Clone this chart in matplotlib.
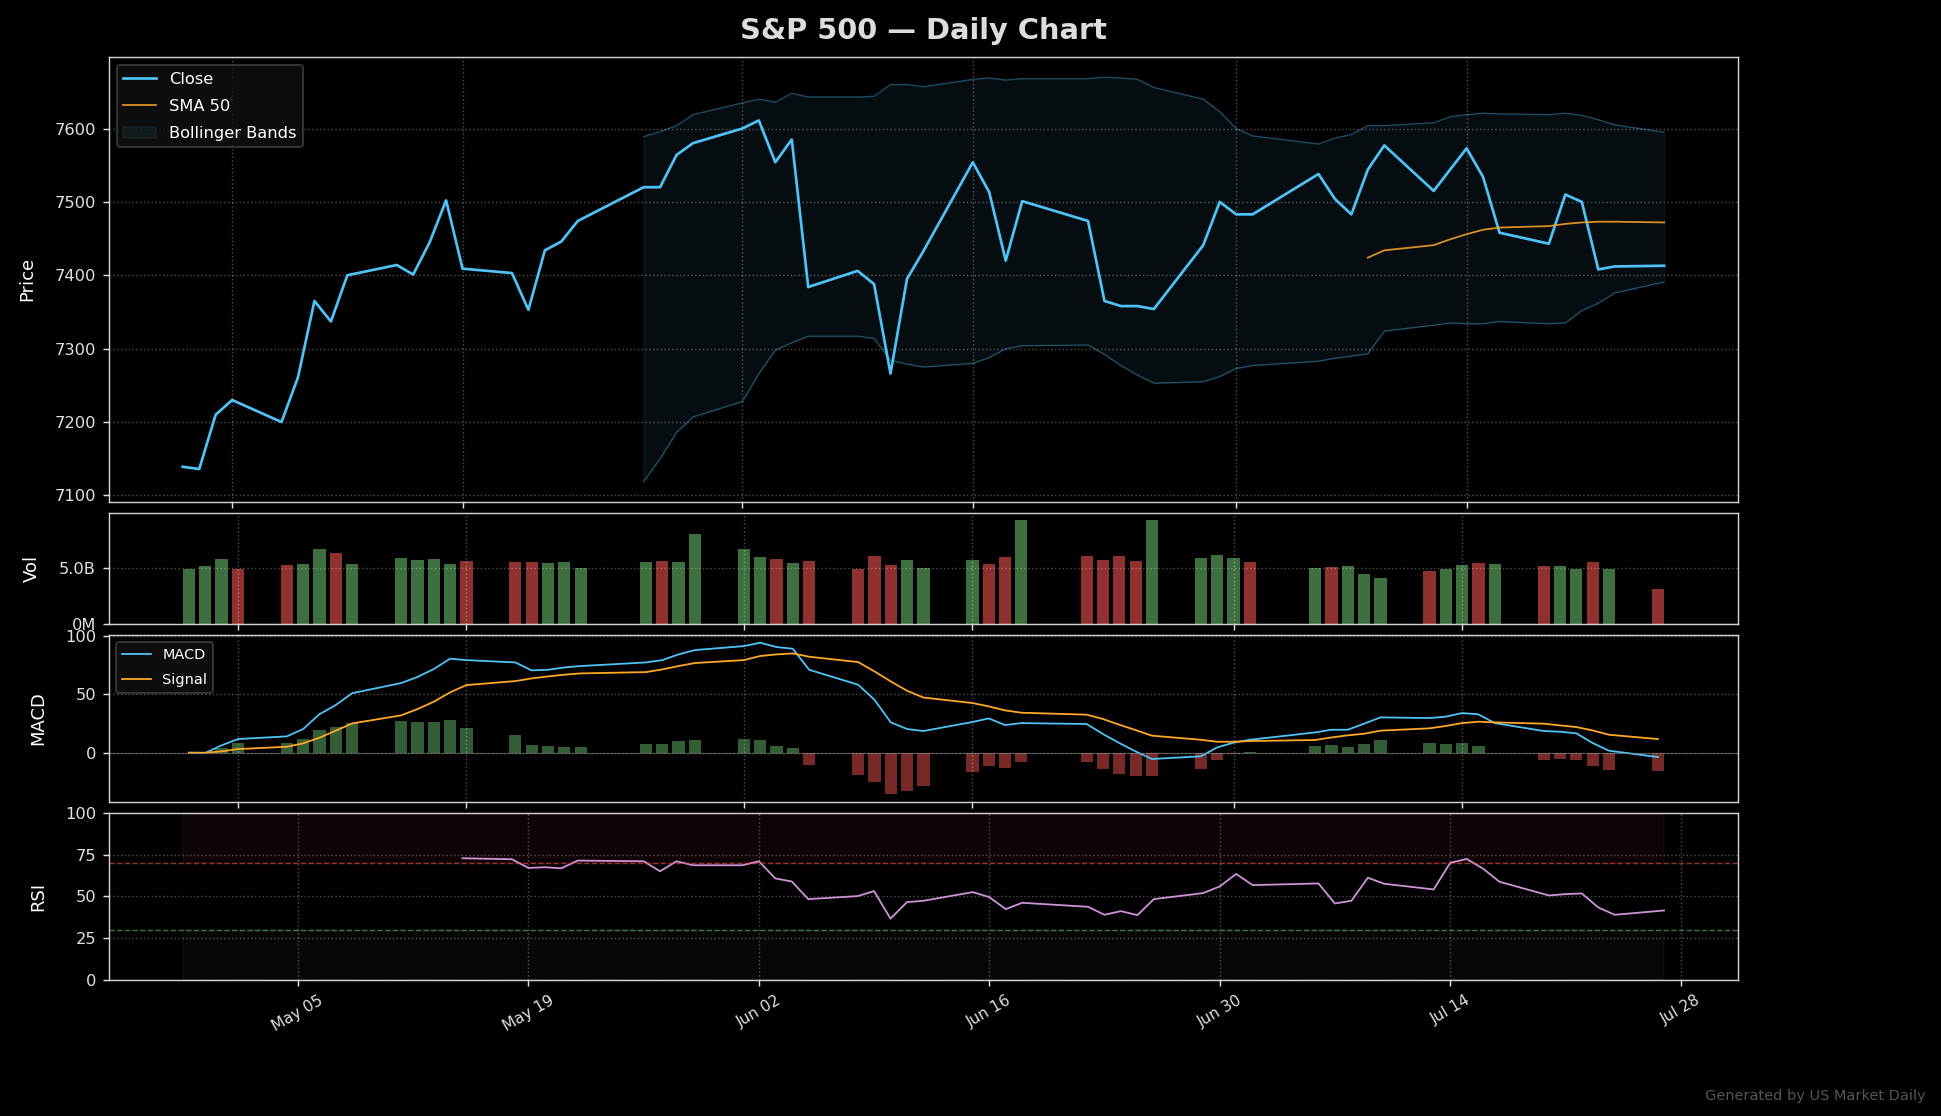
import numpy as np
import pandas as pd
import matplotlib
matplotlib.use('Agg')
import matplotlib.pyplot as plt
import matplotlib.dates as mdates
from matplotlib.ticker import FuncFormatter, MaxNLocator

# trading days (NYSE closed on Memorial Day, Juneteenth, Jul 3 observed)
holidays = ['2026-05-25', '2026-06-19', '2026-07-03']
dates = pd.bdate_range('2026-04-28', '2026-07-27', freq='C', holidays=holidays)

close = [7139, 7136, 7210, 7230,
         7200, 7261, 7365, 7337, 7400,
         7414, 7401, 7445, 7502, 7409,
         7403, 7353, 7434, 7446, 7474,
         7520, 7520, 7564, 7580,
         7600, 7611, 7554, 7585, 7384,
         7406, 7388, 7266, 7395, 7433,
         7554, 7513, 7420, 7501,
         7474, 7365, 7358, 7358, 7354,
         7441, 7500, 7483, 7483,
         7538, 7504, 7483, 7544, 7577,
         7515, 7544, 7573, 7534, 7458,
         7443, 7510, 7500, 7408, 7412,
         7413]

# SMA 50 from 2026-07-09
sma50 = [7424, 7434, 7441, 7449, 7456, 7462, 7465, 7467, 7470, 7472, 7473, 7473, 7472]

# Bollinger bands from 2026-05-26
bb_upper = [7589, 7596, 7604, 7619,
            7635, 7640, 7636, 7648, 7643,
            7643, 7644, 7660, 7660, 7657,
            7667, 7669, 7666, 7668,
            7668, 7670, 7669, 7667, 7656,
            7640, 7623, 7600, 7590,
            7579, 7587, 7592, 7604, 7604,
            7608, 7616, 7619, 7621, 7620,
            7619, 7621, 7618, 7612, 7605,
            7595]
bb_lower = [7119, 7150, 7186, 7207,
            7228, 7266, 7298, 7308, 7317,
            7317, 7314, 7284, 7279, 7275,
            7280, 7288, 7300, 7304,
            7305, 7292, 7277, 7264, 7253,
            7255, 7262, 7273, 7277,
            7283, 7287, 7290, 7293, 7324,
            7332, 7335, 7334, 7334, 7337,
            7334, 7335, 7352, 7362, 7376,
            7391]

# volume in billions, G = up day, R = down day
volume_b = [4.91, 5.18, 5.79, 4.91,
            5.26, 5.35, 6.67, 6.32, 5.35,
            5.88, 5.70, 5.79, 5.35, 5.61,
            5.53, 5.53, 5.44, 5.53, 5.00,
            5.53, 5.61, 5.53, 7.98,
            6.67, 5.96, 5.79, 5.44, 5.61,
            4.91, 6.05, 5.26, 5.70, 5.00,
            5.70, 5.35, 5.96, 9.21,
            6.05, 5.70, 6.05, 5.61, 9.21,
            5.88, 6.14, 5.88, 5.53,
            5.00, 5.09, 5.18, 4.47, 4.04,
            4.74, 4.91, 5.26, 5.44, 5.35,
            5.18, 5.18, 4.91, 5.53, 4.91,
            3.07]
vol_dir = list('GGGR' 'RGGRG' 'GGGGR' 'RRGGG' 'GRGG' 'GGRGR' 'RRRGG'
               'GRRG' 'RRRRG' 'GGGR' 'GRGGG' 'RGGRG' 'RGGRG' 'R')

macd = [0, -0.2, 6.3, 11.7,
        14.0, 20.3, 33.0, 40.9, 51.0,
        59.7, 64.9, 71.7, 80.6, 79.4,
        77.4, 70.6, 71.1, 73.1, 74.3,
        77.4, 79.4, 84.3, 88.0,
        91.4, 94.3, 90.6, 89.1, 71.1,
        58.3, 45.4, 26.0, 20.3, 18.6,
        26.3, 29.4, 23.7, 25.4,
        24.6, 16.0, 8.3, 1.1, -5.4,
        -3.1, 4.6, 8.6, 11.1,
        17.4, 19.7, 19.7, 24.9, 30.3,
        29.7, 30.9, 34.0, 32.9, 25.4,
        18.6, 18.0, 16.6, 8.3, 1.7,
        -3.7]
signal = [0, 0, 1.1, 3.1,
          5.1, 8.0, 12.9, 18.9, 25.1,
          32.0, 37.4, 43.7, 51.7, 58.0,
          61.4, 63.7, 65.4, 66.9, 68.0,
          69.1, 71.4, 74.3, 76.9,
          79.4, 82.9, 84.3, 85.1, 82.3,
          77.7, 69.7, 61.1, 53.1, 47.3,
          42.6, 39.7, 36.3, 34.3,
          32.6, 28.9, 24.0, 19.4, 14.6,
          11.1, 9.4, 9.4, 10.0,
          10.9, 13.1, 14.9, 16.3, 18.9,
          20.9, 22.9, 25.4, 26.6, 26.0,
          24.9, 23.4, 22.0, 19.1, 15.4,
          11.7]
hist = [0, 0, 4.3, 8.6,
        8.6, 11.7, 19.7, 22.3, 25.4,
        27.4, 26.6, 26.6, 28.3, 21.4,
        15.4, 6.9, 6.0, 5.1, 5.1,
        7.7, 7.7, 10.3, 11.1,
        12.0, 11.1, 6.0, 4.3, -10.9,
        -19.4, -25.4, -35.7, -33.1, -28.3,
        -16.3, -11.1, -12.9, -8.3,
        -7.7, -13.7, -18.0, -19.7, -19.7,
        -13.7, -6.0, -1.4, 0.9,
        6.0, 6.9, 5.1, 7.7, 11.1,
        8.6, 7.7, 8.6, 6.0, -0.6,
        -6.0, -5.1, -6.0, -11.1, -14.6,
        -15.4]

# RSI 14 from 2026-05-15
rsi = [72.9,
       72.3, 67.1, 67.5, 66.9, 71.5,
       71.1, 65.1, 71.1, 68.7,
       68.7, 71.1, 60.8, 59.0, 48.4,
       50.2, 53.2, 36.7, 46.6, 47.4,
       52.6, 49.6, 42.4, 46.2,
       43.8, 39.0, 41.2, 38.8, 48.4,
       52.0, 56.0, 63.5, 56.8,
       57.8, 45.8, 47.4, 61.2, 57.6,
       54.2, 70.1, 72.5, 66.7, 58.8,
       50.6, 51.4, 51.8, 43.4, 39.0,
       41.6]

BLUE = '#4fc3f7'
ORANGE = '#ffa726'
GREEN = '#66bb6a'
RED = '#ef5350'
DPI = 130


def style_axis(ax):
    ax.grid(True, linestyle=':', alpha=0.3)
    for sp in ax.spines.values():
        sp.set_color('#d0d0d0')
    ax.tick_params(colors='#e0e0e0', labelsize=9)


def main():
    plt.style.use('dark_background')
    fig = plt.figure(figsize=(1941 / DPI, 1116 / DPI), dpi=DPI)
    fig.patch.set_facecolor('black')
    gs = fig.add_gridspec(4, 1, height_ratios=[4, 1, 1.5, 1.5],
                          left=0.056, right=0.8955, top=0.949, bottom=0.122, hspace=0.05)
    ax1 = fig.add_subplot(gs[0])
    ax2 = fig.add_subplot(gs[1])
    ax3 = fig.add_subplot(gs[2])
    ax4 = fig.add_subplot(gs[3])

    # price
    ax1.plot(dates, close, color=BLUE, lw=1.5, label='Close')
    ax1.plot(dates[49:], sma50, color=ORANGE, lw=1, alpha=0.85, label='SMA 50')
    ax1.fill_between(dates[19:], bb_lower, bb_upper, color=BLUE, alpha=0.07, label='Bollinger Bands')
    ax1.plot(dates[19:], bb_upper, color=BLUE, lw=0.7, alpha=0.35)
    ax1.plot(dates[19:], bb_lower, color=BLUE, lw=0.7, alpha=0.35)
    ax1.set_ylabel('Price', fontsize=10, labelpad=10)
    ax1.set_title('S&P 500 — Daily Chart', fontsize=16, fontweight='bold', color='#dddddd', pad=10)
    ax1.legend(loc='upper left', fontsize=9, labelspacing=0.75,
               facecolor='#111111', edgecolor='#444444')

    # volume
    vol = np.array(volume_b) * 1e9
    vcolors = [GREEN if d == 'G' else RED for d in vol_dir]
    ax2.bar(dates, vol, width=0.75, color=vcolors, alpha=0.6)
    ax2.set_ylim(0, vol.max() * 1.07)
    ax2.set_ylabel('Vol', fontsize=10, labelpad=10)
    ax2.yaxis.set_major_locator(MaxNLocator(2))
    ax2.yaxis.set_major_formatter(FuncFormatter(
        lambda v, _: f'{v / 1e9:.1f}B' if v >= 1e9 else f'{v / 1e6:.0f}M'))

    # macd
    hcolors = [GREEN if h >= 0 else RED for h in hist]
    ax3.bar(dates, hist, width=0.75, color=hcolors, alpha=0.5)
    ax3.plot(dates, macd, color=BLUE, lw=1, label='MACD')
    ax3.plot(dates, signal, color=ORANGE, lw=1, label='Signal')
    ax3.axhline(0, color='gray', lw=0.6, alpha=0.6)
    ax3.set_ylabel('MACD', fontsize=10, labelpad=10)
    ax3.yaxis.set_major_locator(MaxNLocator(3))
    ax3.legend(loc='upper left', fontsize=8, labelspacing=0.75,
               facecolor='#111111', edgecolor='#444444')

    # rsi
    ax4.plot(dates[13:], rsi, color='#ce93d8', lw=1)
    ax4.axhline(70, color=RED, ls='--', lw=0.8, alpha=0.6)
    ax4.axhline(30, color=GREEN, ls='--', lw=0.8, alpha=0.6)
    ax4.fill_between(dates, 70, 100, color=RED, alpha=0.06)
    ax4.fill_between(dates, 0, 30, color=GREEN, alpha=0.05)
    ax4.set_ylim(0, 100)
    ax4.set_yticks([0, 25, 50, 75, 100])
    ax4.set_ylabel('RSI', fontsize=10, labelpad=10)
    ax4.xaxis.set_major_locator(mdates.WeekdayLocator(byweekday=mdates.TU, interval=2))
    ax4.xaxis.set_major_formatter(mdates.DateFormatter('%b %d'))

    for ax in (ax1, ax2, ax3, ax4):
        style_axis(ax)
    for ax in (ax1, ax2, ax3):
        ax.tick_params(labelbottom=False)
    ax4.tick_params(axis='x', rotation=30, labelsize=8.5)

    fig.text(0.992, 0.012, 'Generated by US Market Daily', ha='right', va='bottom',
             fontsize=8, color='#555555')

    fig.savefig('out.png', dpi=DPI, facecolor='black')


if __name__ == '__main__':
    main()
